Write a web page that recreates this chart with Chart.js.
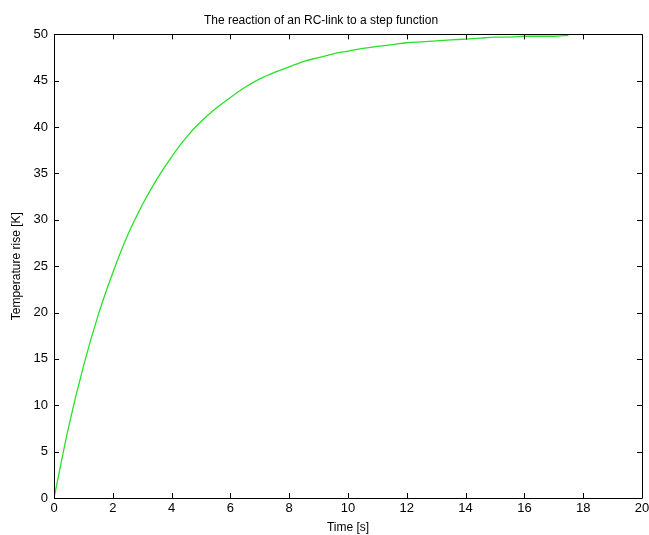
<!DOCTYPE html>
<html>
<head>
<meta charset="utf-8">
<script src="https://cdn.jsdelivr.net/npm/chart.js@4"></script>
<style>
  body { margin: 0; background: #fff; }
  #wrap { width: 649px; height: 535px; }
</style>
</head>
<body>
<div id="wrap"><canvas id="myChart"></canvas></div>
<script>
// values, every 0.5 s
let tempo = [0, 0.5, 1, 1.5, 2, 2.5, 3, 3.5, 4, 4.5, 5, 5.5, 6, 6.5, 7, 7.5, 8, 8.5,
  9, 9.5, 10, 10.5, 11, 11.5, 12, 12.5, 13, 13.5, 14, 14.5, 15, 15.5, 16, 16.5, 17, 17.5]
let aumento = [0, 7.7, 14.2, 19.7, 24.3, 28.3, 31.6, 34.4, 36.8, 38.9, 40.6, 42.0,
  43.2, 44.3, 45.2, 45.9, 46.5, 47.1, 47.5, 47.9, 48.2, 48.5, 48.7, 48.9,
  49.1, 49.2, 49.3, 49.4, 49.5, 49.6, 49.7, 49.7, 49.8, 49.8, 49.8, 49.9]
let ticksX = [0, 2, 4, 6, 8, 10, 12, 14, 16, 18, 20]
let ticksY = [0, 5, 10, 15, 20, 25, 30, 35, 40, 45, 50]

const fonte = "'Liberation Sans Narrow', 'Liberation Sans', Arial, sans-serif"

let pontos = []
for (let i = 0; i < tempo.length; i++) {
    pontos.push({ x: tempo[i], y: aumento[i] })
}

// moldura e marcas para dentro, estilo matlab
const moldura = {
    id: 'moldura',
    afterDatasetsDraw(chart) {
        const ctx = chart.ctx
        const a = chart.chartArea
        const sx = chart.scales.x
        const sy = chart.scales.y
        ctx.save()
        ctx.strokeStyle = '#000'
        ctx.lineWidth = 1
        ctx.beginPath()
        ctx.rect(Math.round(a.left) + 0.5, Math.round(a.top) + 0.5,
            Math.round(a.right - a.left), Math.round(a.bottom - a.top))
        for (const v of ticksX) {
            const px = Math.round(sx.getPixelForValue(v)) + 0.5
            ctx.moveTo(px, a.bottom); ctx.lineTo(px, a.bottom - 5)
            ctx.moveTo(px, a.top); ctx.lineTo(px, a.top + 5)
        }
        for (const v of ticksY) {
            const py = Math.round(sy.getPixelForValue(v)) + 0.5
            ctx.moveTo(a.left, py); ctx.lineTo(a.left + 5, py)
            ctx.moveTo(a.right, py); ctx.lineTo(a.right - 5, py)
        }
        ctx.stroke()
        ctx.restore()
    }
}

const config = {
    type: 'line',
    data: {
        datasets: [{
            label: 'Temperature rise',
            data: pontos,
            borderColor: 'rgb(40,225,40)',
            borderWidth: 1.3,
            pointRadius: 0,
            cubicInterpolationMode: 'monotone',
            fill: false,
        }]
    },
    options: {
        responsive: true,
        maintainAspectRatio: false,
        animation: false,
        layout: { padding: { left: 0, right: 7, top: 0, bottom: 0 } },
        plugins: {
            legend: { display: false },
            tooltip: { enabled: false },
            title: {
                display: true,
                text: 'The reaction of an RC-link to a step function',
                color: '#000',
                font: { family: fonte, size: 12, weight: 'normal' },
                padding: { top: 13, bottom: 7 },
            },
        },
        scales: {
            x: {
                type: 'linear',
                min: 0,
                max: 20,
                afterBuildTicks: (s) => { s.ticks = ticksX.map(v => ({ value: v })) },
                afterFit: (s) => { s.height = 37; s.paddingRight = 0; s.paddingLeft = 0 },
                grid: { display: false, drawTicks: false },
                border: { display: false },
                ticks: { color: '#000', padding: 3, maxRotation: 0, font: { family: fonte, size: 13 } },
                title: {
                    display: true,
                    text: 'Time [s]',
                    color: '#000',
                    padding: { top: 2, bottom: 0 },
                    font: { family: fonte, size: 12 },
                },
            },
            y: {
                min: 0,
                max: 50,
                afterBuildTicks: (s) => { s.ticks = ticksY.map(v => ({ value: v })) },
                afterFit: (s) => { s.width = 54 },
                grid: { display: false, drawTicks: false },
                border: { display: false },
                ticks: { color: '#000', padding: 6, font: { family: fonte, size: 13 } },
                title: {
                    display: true,
                    text: 'Temperature rise [K]',
                    color: '#000',
                    padding: { top: 9, bottom: 0 },
                    font: { family: fonte, size: 12 },
                },
            },
        },
    },
    plugins: [moldura],
}

const myChart = new Chart(document.getElementById('myChart').getContext('2d'), config)
</script>
</body>
</html>
